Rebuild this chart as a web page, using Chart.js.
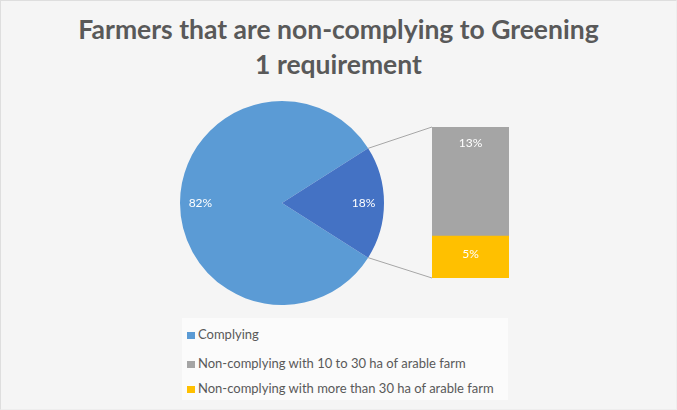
<!DOCTYPE html>
<html>
<head>
<meta charset="utf-8">
<script src="https://cdn.jsdelivr.net/npm/chart.js@4.4.1/dist/chart.umd.min.js"></script>
<style>
    html, body { margin: 0; padding: 0; }
    body { width: 677px; height: 410px; background: #f5f5f5; font-family: Lato, "Open Sans", sans-serif; overflow: hidden; }
    .frame { position: absolute; left: 0; top: 0; width: 675px; height: 408px; border: 1px solid #dedede; border-right-color: #eee; border-bottom-color: #eee; }
    .title { position: absolute; left: 0; top: 12px; width: 677px; text-align: center; color: #595959; font-weight: bold; font-size: 26.5px; line-height: 35px; }
    canvas { position: absolute; left: 0; top: 0; }
    .legend { position: absolute; left: 182px; top: 318px; width: 326px; height: 82px; background: #fbfbfb; }
    .legend-item { position: absolute; left: 5px; color: #595959; font-size: 13px; line-height: 14px; white-space: nowrap; }
    .legend-item span { display: inline-block; width: 8px; height: 7px; margin-right: 3px; vertical-align: 0; }
</style>
</head>
<body>
<div class="frame"></div>
<div class="title">Farmers that are non-complying to Greening<br>1 requirement</div>
<div class="legend" id="legend"></div>
<canvas id="pieChart" width="677" height="410"></canvas>
<canvas id="barChart" width="677" height="410"></canvas>
<script>
// main pie: complying vs non-complying
const pieLabels = ['Complying', 'Non-complying'];
const pieValues = [82, 18];
const pieColors = ['#5b9bd5', '#4472c4'];

// breakdown of the non-complying slice
const barLabels = ['Non-complying with 10 to 30 ha of arable farm', 'Non-complying with more than 30 ha of arable farm'];
const barValues = [13, 5];
const barColors = ['#a5a5a5', '#ffc000'];

const legendLabels = ['Complying', barLabels[0], barLabels[1]];
const legendColors = [pieColors[0], barColors[0], barColors[1]];

const labelFont = '12px Lato, "Open Sans", sans-serif';

function renderLegend() {
    const box = document.getElementById('legend');
    const rows = [9, 38, 63];
    box.innerHTML = legendLabels.map((label, i) => `
        <div class="legend-item" style="top:${rows[i]}px"><span style="background:${legendColors[i]}"></span>${label}</div>
    `).join('');
}

const total = pieValues.reduce((a, b) => a + b, 0);
const small = pieValues[1] / total;
// turn the pie so the small slice sits centred on the right
const rotation = 90 - 360 * (pieValues[0] / total) - 180 * small;

const pieLabelPlugin = {
    id: 'pieLabels',
    afterDatasetsDraw(chart) {
        const ctx = chart.ctx;
        const meta = chart.getDatasetMeta(0);
        ctx.save();
        ctx.font = labelFont;
        ctx.fillStyle = '#ffffff';
        ctx.textAlign = 'center';
        ctx.textBaseline = 'middle';
        meta.data.forEach((arc, i) => {
            const p = arc.getProps(['x', 'y', 'startAngle', 'endAngle', 'outerRadius'], true);
            const mid = (p.startAngle + p.endAngle) / 2;
            const r = p.outerRadius * 0.8;
            ctx.fillText(pieValues[i] + '%', p.x + Math.cos(mid) * r, p.y + Math.sin(mid) * r);
        });
        ctx.restore();
    }
};

const pieChart = new Chart(document.getElementById('pieChart'), {
    type: 'pie',
    data: {
        labels: pieLabels,
        datasets: [{
            data: pieValues,
            backgroundColor: pieColors,
            borderWidth: 0,
        }]
    },
    options: {
        responsive: false,
        animation: false,
        rotation: rotation,
        layout: { padding: { left: 178, right: 291, top: 101, bottom: 105 } },
        plugins: { legend: { display: false }, tooltip: { enabled: false } }
    },
    plugins: [pieLabelPlugin]
});

// connector lines from the small slice to the stacked bar, plus bar labels
const barExtrasPlugin = {
    id: 'barExtras',
    afterDatasetsDraw(chart) {
        const ctx = chart.ctx;
        const arc = pieChart.getDatasetMeta(0).data[1].getProps(['x', 'y', 'startAngle', 'endAngle', 'outerRadius'], true);
        const top = chart.getDatasetMeta(0).data[0].getProps(['x', 'y', 'base', 'width'], true);
        const bottom = chart.getDatasetMeta(1).data[0].getProps(['x', 'y', 'base', 'width'], true);
        const left = top.x - top.width / 2;

        ctx.save();
        ctx.strokeStyle = '#a6a6a6';
        ctx.lineWidth = 1;
        ctx.beginPath();
        ctx.moveTo(arc.x + Math.cos(arc.startAngle) * arc.outerRadius, arc.y + Math.sin(arc.startAngle) * arc.outerRadius);
        ctx.lineTo(left, top.y);
        ctx.moveTo(arc.x + Math.cos(arc.endAngle) * arc.outerRadius, arc.y + Math.sin(arc.endAngle) * arc.outerRadius);
        ctx.lineTo(left, bottom.base);
        ctx.stroke();

        ctx.font = labelFont;
        ctx.fillStyle = '#ffffff';
        ctx.textAlign = 'center';
        ctx.textBaseline = 'middle';
        ctx.fillText(barValues[0] + '%', top.x, top.y + 16);
        ctx.fillText(barValues[1] + '%', bottom.x, (bottom.y + bottom.base) / 2 - 3);
        ctx.restore();
    }
};

new Chart(document.getElementById('barChart'), {
    type: 'bar',
    data: {
        labels: [''],
        // grey segment on top, yellow underneath
        datasets: [
            { label: barLabels[0], data: [barValues[0]], backgroundColor: barColors[0], order: 1 },
            { label: barLabels[1], data: [barValues[1]], backgroundColor: barColors[1], order: 0 },
        ]
    },
    options: {
        responsive: false,
        animation: false,
        layout: { padding: { left: 432, right: 168, top: 127, bottom: 132 } },
        datasets: { bar: { categoryPercentage: 1, barPercentage: 1, borderWidth: 0 } },
        scales: {
            x: { stacked: true, display: false },
            y: { stacked: true, display: false, min: 0, max: barValues[0] + barValues[1] }
        },
        plugins: { legend: { display: false }, tooltip: { enabled: false } }
    },
    plugins: [barExtrasPlugin]
});

renderLegend();
</script>
</body>
</html>
